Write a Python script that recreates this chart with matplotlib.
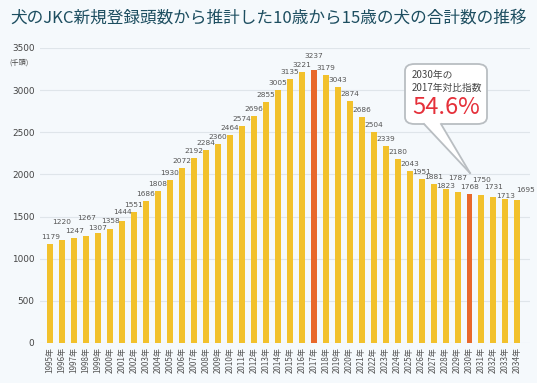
import matplotlib
matplotlib.use("Agg")
import matplotlib.pyplot as plt
from matplotlib.patches import FancyBboxPatch, Polygon
from matplotlib.lines import Line2D

plt.rcParams['font.family'] = ['Noto Sans CJK JP', 'DejaVu Sans']

years = list(range(1995, 2035))
values = [1179, 1220, 1247, 1267, 1307, 1358, 1444, 1551, 1686, 1808,
          1930, 2072, 2192, 2284, 2360, 2464, 2574, 2696, 2855, 3005,
          3135, 3221, 3237, 3179, 3043, 2874, 2686, 2504, 2339, 2180,
          2043, 1951, 1881, 1823, 1787, 1768, 1750, 1731, 1713, 1695]
tick_labels = [f"{y}年" for y in years]
highlight_years = [2017, 2030]

title = "犬のJKC新規登録頭数から推計した10歳から15歳の犬の合計数の推移"
unit_label = "(千頭)"
callout_line1 = "2030年の"
callout_line2 = "2017年対比指数"
callout_value = "54.6%"

# label placement tweaks (pixels: dx, dy above bar top)
label_shift = {1996: (0, 18), 1998: (0, 18), 1999: (0, 5), 2000: (0, 8),
               2001: (0, 9),
               2017: (0, 14), 2028: (0, 3), 2029: (0, 14), 2031: (0, 16),
               2032: (0, 10), 2033: (0, 3), 2034: (8, 10)}

W, H = 537, 383
bg = "#f5f9fc"
yellow = "#f2c12c"
orange = "#e8682b"

fig = plt.figure(figsize=(W / 100, H / 100), dpi=100, facecolor=bg)
ax = fig.add_axes([40 / W, 1 - 343 / H, (530 - 40) / W, (343 - 48) / H])
ax.set_facecolor(bg)

x = list(range(len(years)))
colors = [orange if y in highlight_years else yellow for y in years]
ax.bar(x, values, width=0.5, color=colors, zorder=3)

for xi, y, v in zip(x, years, values):
    dx, dy = label_shift.get(y, (0, 7))
    ax.annotate(str(v), (xi, v), xytext=(dx * 0.72, dy * 0.72),
                textcoords="offset points",
                ha="center", va="center", fontsize=5.3, color="#555555",
                family=['DejaVu Sans'], zorder=4)

ax.set_ylim(0, 3500)
ax.set_xlim(-0.85, len(years) - 1 + 1.05)
ax.set_yticks(range(0, 3501, 500))
ax.set_yticklabels([str(t) for t in range(0, 3501, 500)], fontsize=6.4,
                   color="#444444", family=['DejaVu Sans'])
ax.set_xticks(x)
ax.set_xticklabels(tick_labels, rotation=90, fontsize=5.8, color="#555555",
                   va="top")
ax.tick_params(axis="both", length=0, pad=3)
ax.tick_params(axis="y", pad=4)
ax.grid(axis="y", color="#dfe5ea", linewidth=0.8, zorder=0)
for s in ax.spines.values():
    s.set_visible(False)

fig.text(10 / W, 1 - 18 / H, title, fontsize=12, color="#1d4e60",
         ha="left", va="center")
fig.text(9 / W, 1 - 63 / H, unit_label, fontsize=5.2, color="#444444",
         ha="left", va="center")

# callout bubble
def fx(px):
    return px / W

def fy(py):
    return 1 - py / H

tip = (470, 173)
box = FancyBboxPatch((fx(405), fy(124)), fx(487) - fx(405), fy(64) - fy(124),
                     boxstyle="round,pad=0,rounding_size=0.018",
                     transform=fig.transFigure, facecolor="white",
                     edgecolor="#b9bec2", linewidth=1.3, zorder=10)
fig.add_artist(box)
tail = Polygon([(fx(424), fy(123)), (fx(441), fy(123)), (fx(tip[0]), fy(tip[1]))],
               closed=True, transform=fig.transFigure, facecolor="white",
               edgecolor="none", zorder=11)
fig.add_artist(tail)
for (x0, y0) in [(424, 124), (441, 124)]:
    fig.add_artist(Line2D([fx(x0), fx(tip[0])], [fy(y0), fy(tip[1])],
                          transform=fig.transFigure, color="#b9bec2",
                          linewidth=1.3, zorder=12))
fig.text(fx(412), fy(75), callout_line1, fontsize=7, color="#444444",
         ha="left", va="center", zorder=13)
fig.text(fx(412), fy(88), callout_line2, fontsize=7, color="#444444",
         ha="left", va="center", zorder=13)
fig.text(fx(446), fy(107), callout_value, fontsize=17, color="#e5303a",
         ha="center", va="center", zorder=13)

fig.savefig("out.png", dpi=100, facecolor=bg)
